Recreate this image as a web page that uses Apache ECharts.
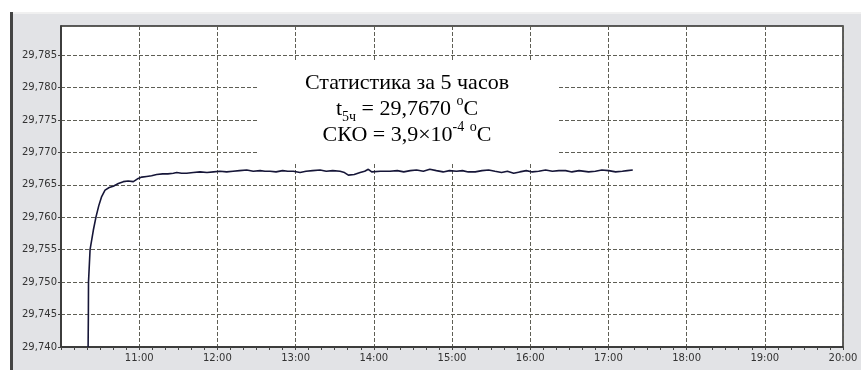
<!DOCTYPE html>
<html><head><meta charset="utf-8">
<script src="https://cdn.jsdelivr.net/npm/echarts@6/dist/echarts.min.js"></script>
<style>html,body{margin:0;padding:0;background:#fff;}#c{width:861px;height:370px;}</style>
</head><body><div id="c"></div>
<script>
// time in minutes after 10:00
var timeMin = [20.8,21.0,21.1,22.3,24.8,26.9,29.0,31.2,33.8,37.0,40.1,44.0,47.8,51.5,55.5,59.3,62.0,65.7,69.5,73.4,78.0,82.0,86.2,88.8,92.5,96.4,101.5,106.7,112.0,117.0,122.0,127.1,132.0,137.0,142.5,147.5,152.8,156.5,160.4,165.0,170.0,174.0,178.3,183.4,188.0,193.0,198.8,203.5,208.5,214.1,217.5,220.5,225.0,229.5,233.0,235.8,238.4,245.0,252.4,258.0,263.0,268.0,272.8,278.0,283.0,288.0,293.2,298.0,303.5,308.0,312.5,317.8,323.0,328.1,333.0,338.0,342.5,347.3,352.0,357.0,361.6,366.5,371.8,377.0,382.0,387.2,392.0,397.5,404.8,410.0,415.0,420.2,425.5,430.7,434.5,438.7];
var temps = [29.7400,29.7450,29.7500,29.7550,29.7580,29.7601,29.7618,29.7632,29.7642,29.7646,29.7648,29.7652,29.7655,29.7656,29.7655,29.7660,29.7662,29.7663,29.7664,29.7666,29.7667,29.7667,29.7668,29.7669,29.7668,29.7668,29.7669,29.7670,29.7669,29.7670,29.7671,29.7670,29.7671,29.7672,29.7673,29.7671,29.7672,29.7671,29.7671,29.7670,29.7672,29.7671,29.7671,29.7669,29.7671,29.7672,29.7673,29.7671,29.7672,29.7671,29.7669,29.7665,29.7666,29.7669,29.7671,29.7674,29.7670,29.7671,29.7671,29.7672,29.7670,29.7672,29.7673,29.7671,29.7674,29.7672,29.7670,29.7672,29.7671,29.7672,29.7670,29.7670,29.7672,29.7673,29.7671,29.7669,29.7671,29.7668,29.7670,29.7672,29.7670,29.7671,29.7673,29.7671,29.7672,29.7672,29.7670,29.7672,29.7670,29.7671,29.7673,29.7672,29.7670,29.7671,29.7672,29.7673];
var yTicks = [29.740,29.745,29.750,29.755,29.760,29.765,29.770,29.775,29.780,29.785];
var hourLabels = ['10:00','11:00','12:00','13:00','14:00','15:00','16:00','17:00','18:00','19:00','20:00'];
var statTitle = 'Статистика за 5 часов';
var statMean = ['t','5ч',' = 29,7670 ','o','C'];
var statSko = ['СКО = 3,9×10','-4',' ','o','C'];

var seriesData = timeMin.map(function(t,i){return [t,temps[i]];});
var chart = echarts.init(document.getElementById('c'));
var gridCol = '#5e5e55';
var rich = {
  a:{fontFamily:'Liberation Serif',fontSize:22,lineHeight:26,color:'#111',verticalAlign:'middle'},
  sub:{fontFamily:'Liberation Serif',fontSize:14,lineHeight:26,verticalAlign:'bottom',color:'#111',padding:[0,0,0,0]},
  sup:{fontFamily:'Liberation Serif',fontSize:14,lineHeight:30,verticalAlign:'top',color:'#111'}
};
function txt(y, s){
  return {type:'text',z:51,silent:true,x:407,y:y,style:{text:s,align:'center',verticalAlign:'middle',rich:rich}};
}
chart.setOption({
  animation:false,
  backgroundColor:'#fff',
  graphic:[
    {type:'rect',z:-10,silent:true,shape:{x:10,y:12,width:851,height:358},style:{fill:'#e2e3e6'}},
    {type:'rect',z:-9,silent:true,shape:{x:10,y:12,width:3,height:358},style:{fill:'#444'}},
    {type:'rect',z:-9,silent:true,shape:{x:13,y:12,width:848,height:2},style:{fill:'#f0f0f0'}},
    {type:'rect',z:50,silent:true,shape:{x:257,y:60,width:301,height:102},style:{fill:'#fff'}},
    txt(83,'{a|'+statTitle+'}'),
    txt(109,'{a|'+statMean[0]+'}{sub|'+statMean[1]+'}{a|'+statMean[2]+'}{sup|'+statMean[3]+'}{a|'+statMean[4]+'}'),
    txt(135,'{a|'+statSko[0]+'}{sup|'+statSko[1]+'}{a|'+statSko[2]+'}{sup|'+statSko[3]+'}{a|'+statSko[4]+'}')
  ],
  grid:{left:61,top:26,right:18,bottom:23,show:true,backgroundColor:'#fff',borderColor:'#2a2a2a',borderWidth:1.5},
  xAxis:{type:'value',min:0,max:600,interval:60,
    axisLine:{show:true,onZero:false,lineStyle:{color:'#333',width:1.5}},
    axisTick:{show:true,length:3,lineStyle:{color:'#444'}},
    minorTick:{show:true,splitNumber:6,length:3,lineStyle:{color:'#444'}},
    axisLabel:{showMinLabel:false,fontFamily:'DejaVu Sans',fontSize:10,color:'#333',margin:6,
      formatter:function(v){return hourLabels[Math.round(v/60)];}},
    splitLine:{show:true,lineStyle:{color:gridCol,type:[4,2],width:1}}
  },
  yAxis:{type:'value',min:29.740,max:29.7895,interval:0.005,
    axisLine:{show:true,lineStyle:{color:'#333',width:1.5}},
    axisTick:{show:true,length:3,lineStyle:{color:'#444'}},
    axisLabel:{showMaxLabel:false,fontFamily:'DejaVu Sans',fontSize:10,color:'#333',margin:4,
      formatter:function(v){
        for(var i=0;i<yTicks.length;i++){if(Math.abs(yTicks[i]-v)<1e-7)return yTicks[i].toFixed(3).replace('.',',');}
        return '';}},
    splitLine:{show:true,lineStyle:{color:gridCol,type:[4,2],width:1}}
  },
  series:[{type:'line',data:seriesData,showSymbol:false,smooth:false,
    lineStyle:{color:'#161638',width:1.6},clip:true,z:5}]
});
</script></body></html>
